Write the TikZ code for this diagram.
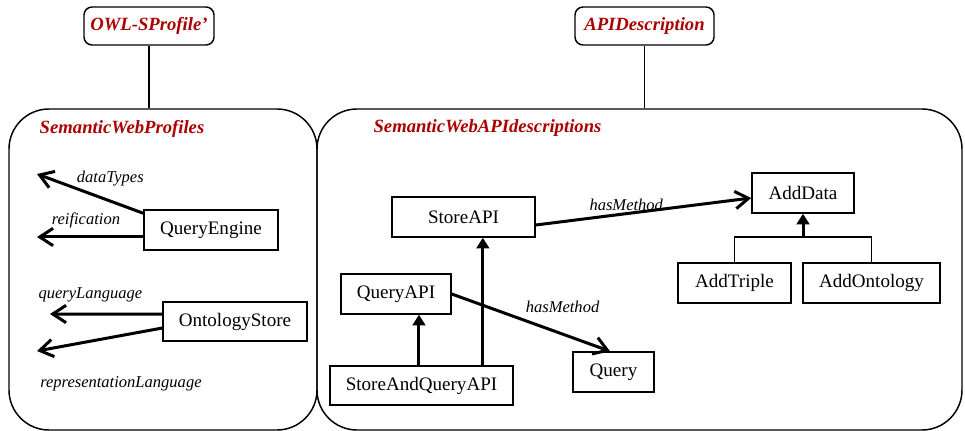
\documentclass[tikz,border=0pt]{standalone}
\usepackage{fontspec}
\setmainfont{Liberation Serif}
\usepackage{tikz}
\usetikzlibrary{positioning,arrows.meta}
\usepackage{xcolor}
\definecolor{hdrred}{RGB}{172,0,0}
\begin{document}
\begin{tikzpicture}[x=0.75pt,y=-0.75pt,
  cls/.style={draw,line width=1.1pt,inner sep=0pt,minimum height=30pt,font=\fontsize{14.3}{17}\selectfont},
  ctx/.style={draw,line width=1.1pt,rounded corners=30pt,inner sep=0pt},
  tag/.style={draw,line width=1.1pt,rounded corners=6pt,inner sep=0pt,minimum width=#1,minimum height=28.5pt,text=hdrred,font=\fontsize{14}{17}\selectfont\bfseries\itshape},
  rel/.style={line width=2.25pt,-{Straight Barb[length=10pt,width=13pt,line width=2.25pt]}},
  isa/.style={line width=2.25pt,-{Triangle[length=8pt,width=9.5pt]}},
  lbl/.style={font=\fontsize{12.4}{15}\selectfont\itshape},
  ttl/.style={text=hdrred,font=\fontsize{14}{17}\selectfont\bfseries\itshape}]
\useasboundingbox (0,0) rectangle (965,431);
\node[ctx,minimum width=231pt,minimum height=240.75pt] (profiles) at (163,269.5) {};
\node[ctx,minimum width=483.75pt,minimum height=240.75pt] (apidescs) at (639.5,269.5) {};
\node[tag=97.5pt] (owl) at (149,26) {OWL-SProfile'};
\node[tag=104.25pt] (api) at (644.5,26) {APIDescription};
\draw[line width=1.1pt] (owl.south) -- (owl.south |- profiles.north);
\draw[line width=1.1pt] (api.south) -- (api.south |- apidescs.north);
\node[ttl] (profilestitle) at (122,129) {SemanticWebProfiles};
\node[ttl] (apititle) at (487.5,128) {SemanticWebAPIdescriptions};
\node[cls,minimum width=100.5pt] (engine) at (211,230) {QueryEngine};
\node[cls,minimum width=108pt,minimum height=29.25pt] (ostore) at (235,321.5) {OntologyStore};
\coordinate (dtEnd) at (37,174);
\coordinate (reEnd) at (37,237);
\coordinate (qlEnd) at (50,314);
\coordinate (rlEnd) at (37,351);
\draw[rel] ([yshift=-3pt]engine.north west) -- (dtEnd) node[lbl,pos=.31,yshift=17pt] {dataTypes};
\draw[rel] ([yshift=-5.25pt]engine.west) -- (reEnd) node[lbl,pos=.54,yshift=12.75pt] {reification};
\draw[rel] ([yshift=5.6pt]ostore.west) -- (qlEnd) node[lbl,pos=.64,yshift=14.25pt] {queryLanguage};
\draw[rel] ([yshift=-4.9pt]ostore.west) -- (rlEnd) node[lbl,pos=.33,yshift=-36.3pt] {representationLanguage};
\node[cls,minimum width=107.25pt] (storeapi) at (463.5,217) {StoreAPI};
\node[cls,minimum width=82.5pt] (queryapi) at (396,294) {QueryAPI};
\node[cls,minimum width=137.25pt,minimum height=29.25pt] (sqapi) at (421.5,385.5) {StoreAndQueryAPI};
\node[cls,minimum width=60.75pt] (query) at (613.5,372) {Query};
\node[cls,minimum width=76.5pt] (adddata) at (803,193) {AddData};
\node[cls,minimum width=84.75pt] (addtriple) at (734.5,283) {AddTriple};
\node[cls,minimum width=102.75pt] (addonto) at (871.5,283) {AddOntology};
\draw[rel] ([yshift=-6pt]storeapi.east) -- ([yshift=-3.75pt]adddata.west) node[lbl,pos=.42,yshift=6.5pt] {hasMethod};
\draw[rel] (queryapi.east) -- ([xshift=-2.6pt]query.north) node[lbl,pos=.70,yshift=20.7pt] {hasMethod};
\draw[isa] ([xshift=-1.9pt]sqapi.north) -- ([xshift=-1.9pt]sqapi.north |- queryapi.south);
\draw[isa] ([xshift=46pt]sqapi.north) -- ([xshift=46pt]sqapi.north |- storeapi.south);
\coordinate (join) at (803,237);
\draw[line width=1.1pt] (addtriple.north) |- (join) -| (addonto.north);
\draw[isa] (join) -- (adddata.south);
\end{tikzpicture}
\end{document}
